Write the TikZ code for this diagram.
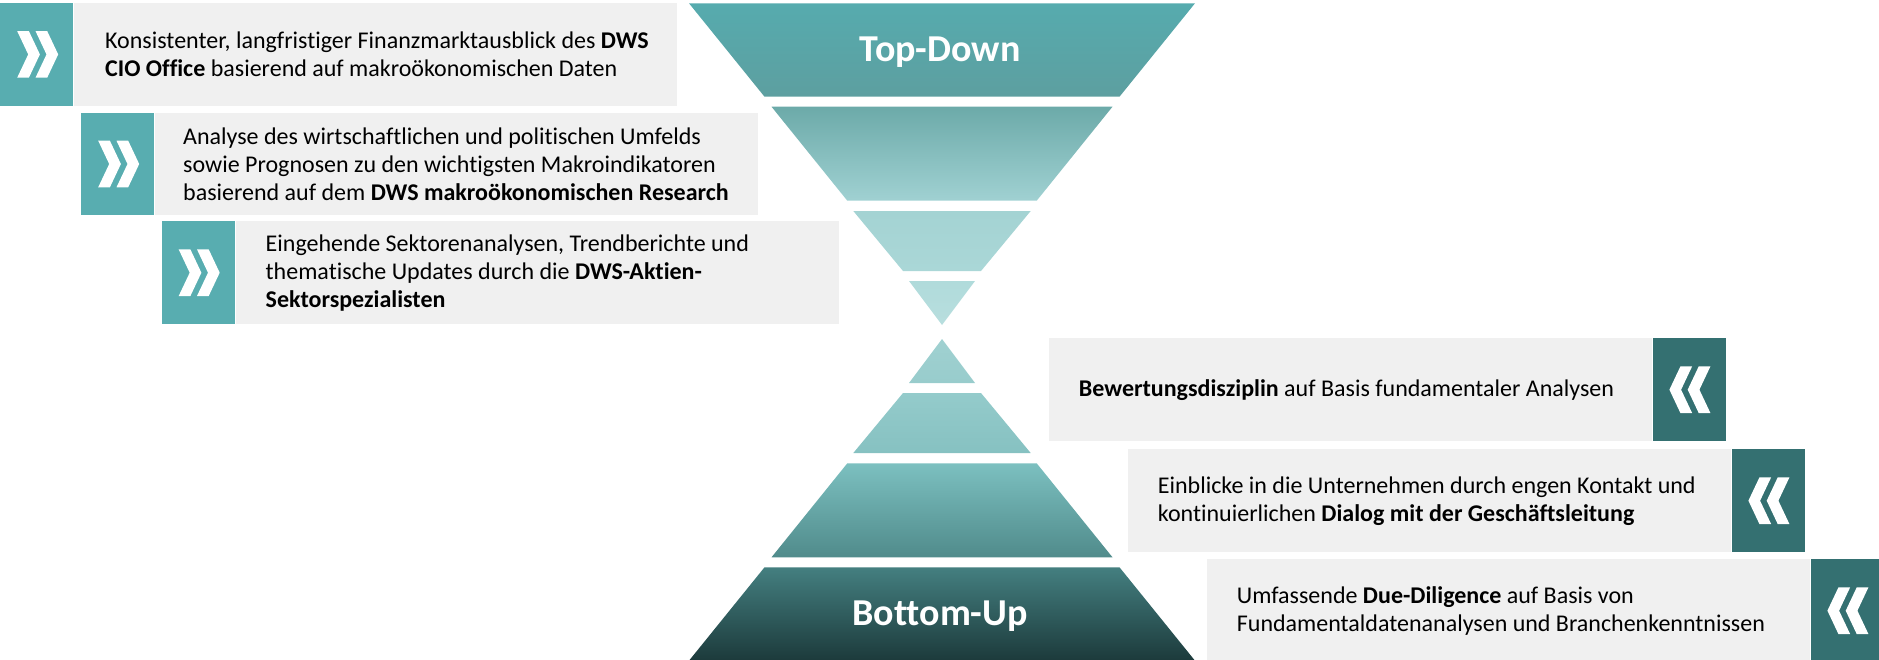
\documentclass[tikz,border=0pt]{standalone}
\usepackage{fontspec}
\setmainfont{Carlito}[Ligatures=NoCommon]
\usetikzlibrary{positioning}

\definecolor{lteal}{HTML}{58ADB0}
\definecolor{dteal}{HTML}{347071}
\definecolor{boxgray}{HTML}{F0F0F0}

% two white chevrons in a square, pointing right or left
\newcommand{\chevR}[1]{%
  \foreach \dx in {0,18.3}
    \fill[white] ([shift={(-19.7+\dx,-23.3)}]#1.center) -- ++(11.7,0) -- ++(11,23.3)
      -- ++(-11,23.3) -- ++(-11.7,0) -- ++(11,-23.3) -- cycle;}
\newcommand{\chevL}[1]{%
  \foreach \dx in {0,18.3}
    \fill[white] ([shift={(21.2-\dx,-23.3)}]#1.center) -- ++(-11.7,0) -- ++(-11,23.3)
      -- ++(11,23.3) -- ++(11.7,0) -- ++(-11,-23.3) -- cycle;}

\begin{document}
\begin{tikzpicture}[x=0.5pt,y=-0.5pt,
  infobox/.style={rectangle,fill=boxgray,minimum width=301.5pt,minimum height=51.3pt,inner sep=0pt},
  boxtext/.style={anchor=west,inner sep=0pt,align=left,font=\fontsize{12}{14}\selectfont},
  square/.style={rectangle,minimum width=36.5pt,minimum height=51.3pt,inner sep=0pt},
  heading/.style={text=white,font=\fontsize{19}{22}\selectfont\bfseries,anchor=base}]
\useasboundingbox (0,0) rectangle (1879,659);

% funnel, top-down
\shade[top color={rgb,255:red,86;green,171;blue,174},
  middle color={rgb,255:red,62;green,134;blue,136},bottom color={rgb,255:red,93;green,159;blue,160}]
  (689,3.3) -- (1195,3.3) -- (1119.5,96.7) -- (764.5,96.7) -- cycle;
\shade[top color={rgb,255:red,108;green,170;blue,169},middle color={rgb,255:red,151;green,203;blue,204},
  bottom color={rgb,255:red,160;green,209;blue,210}]
  (771.5,106.7) -- (1112.5,106.7) -- (1036.7,200.7) -- (847.3,200.7) -- cycle;
\shade[top color={rgb,255:red,164;green,211;blue,211},bottom color={rgb,255:red,170;green,215;blue,215}]
  (853.3,211) -- (1030.7,211) -- (981,271) -- (903,271) -- cycle;
\shade[top color={rgb,255:red,176;green,219;blue,219},bottom color={rgb,255:red,184;green,222;blue,222}]
  (909,281) -- (975,281) -- (942,325) -- cycle;

% pyramid, bottom-up
\shade[top color={rgb,255:red,160;green,209;blue,209},bottom color={rgb,255:red,152;green,204;blue,204}]
  (942,339) -- (975,383) -- (909,383) -- cycle;
\shade[top color={rgb,255:red,148;green,203;blue,203},bottom color={rgb,255:red,134;green,193;blue,193}]
  (903,393) -- (981,393) -- (1030.7,453) -- (853.3,453) -- cycle;
\shade[top color={rgb,255:red,124;green,192;blue,192},middle color={rgb,255:red,114;green,185;blue,185},
  bottom color={rgb,255:red,80;green,139;blue,139}]
  (847.3,463.3) -- (1036.7,463.3) -- (1112.5,557.3) -- (771.5,557.3) -- cycle;
\shade[top color={rgb,255:red,68;green,127;blue,128},bottom color={rgb,255:red,28;green,58;blue,59}]
  (764.5,567.3) -- (1119.5,567.3) -- (1195,660.7) -- (689,660.7) -- cycle;

\node[heading] (td) at (940,61.7) {Top-Down};
\node[heading] (bu) at (940,625) {Bottom-Up};

% left boxes
\node[square,fill=lteal,anchor=north west] (s1) at (0,2.7) {};
\node[infobox,right=0pt of s1] (b1) {};
\node[boxtext,right=15.5pt of b1.west] (t1) {Konsistenter, langfristiger Finanzmarktausblick des \textbf{DWS}\\
  \textbf{CIO Office} basierend auf makroökonomischen Daten};
\node[square,fill=lteal,anchor=north west] (s2) at (81,112.3) {};
\node[infobox,right=0pt of s2] (b2) {};
\node[boxtext,right=14pt of b2.west] (t2) {Analyse des wirtschaftlichen und politischen Umfelds\\
  sowie Prognosen zu den wichtigsten Makroindikatoren\\
  basierend auf dem \textbf{DWS makroökonomischen Research}};
\node[square,fill=lteal,anchor=north west] (s3) at (161.5,221) {};
\node[infobox,right=0pt of s3] (b3) {};
\node[boxtext,right=15pt of b3.west] (t3) {Eingehende Sektorenanalysen, Trendberichte und\\
  thematische Updates durch die \textbf{DWS-Aktien-}\\
  \textbf{Sektorspezialisten}};
\chevR{s1} \chevR{s2} \chevR{s3}

% right boxes
\node[infobox,anchor=north west] (b4) at (1048.5,338) {};
\node[boxtext,right=15pt of b4.west] (t4) {\textbf{Bewertungsdisziplin} auf Basis fundamentaler Analysen};
\node[square,fill=dteal,right=0pt of b4] (s4) {};
\node[infobox,anchor=north west] (b5) at (1127.5,449) {};
\node[boxtext,right=15pt of b5.west] (t5) {Einblicke in die Unternehmen durch engen Kontakt und\\
  kontinuierlichen \textbf{Dialog mit der Geschäftsleitung}};
\node[square,fill=dteal,right=0pt of b5] (s5) {};
\node[infobox,anchor=north west] (b6) at (1206.5,559) {};
\node[boxtext,right=15pt of b6.west] (t6) {Umfassende \textbf{Due-Diligence} auf Basis von\\
  Fundamentaldatenanalysen und Branchenkenntnissen};
\node[square,fill=dteal,right=0pt of b6] (s6) {};
\chevL{s4} \chevL{s5} \chevL{s6}
\end{tikzpicture}
\end{document}
